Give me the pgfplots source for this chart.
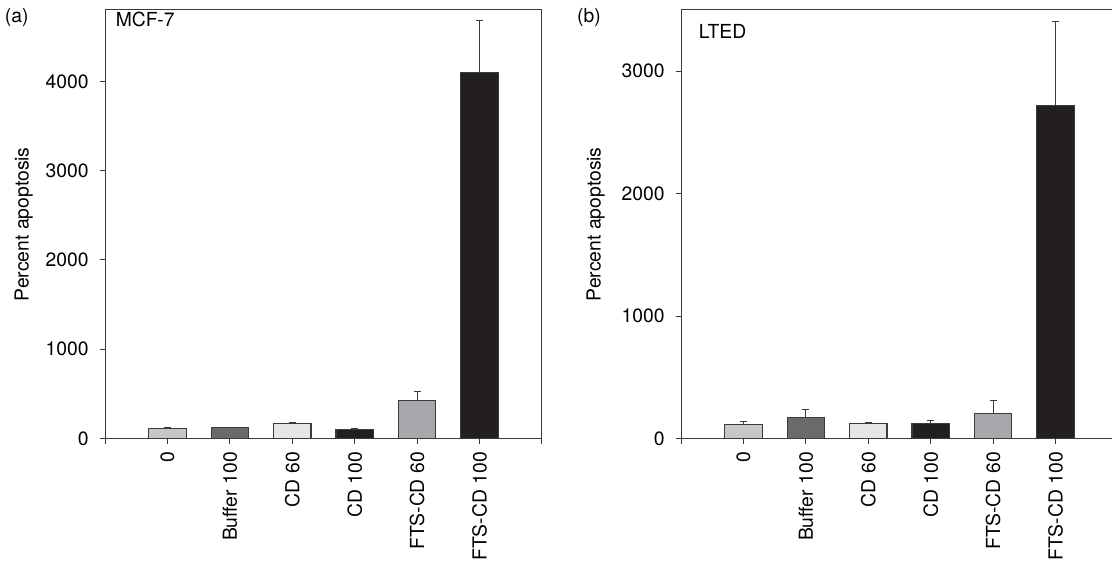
\documentclass[border=0pt]{standalone}
\usepackage{pgfplots}
\pgfplotsset{compat=1.18}
\usepackage{fontspec}
\setmainfont{TeX Gyre Heros}

\definecolor{barA}{HTML}{C6C7C9}
\definecolor{barB}{HTML}{6A6B6D}
\definecolor{barC}{HTML}{E6E6E6}
\definecolor{barD}{HTML}{231F20}
\definecolor{barE}{HTML}{A7A8AB}
\definecolor{barF}{HTML}{231F20}
\definecolor{axisgray}{HTML}{3A3A3A}

\pgfplotsset{
  apopt/.style={
    scale only axis, width=327.75pt, height=321.375pt,
    xmin=-1, xmax=6, ymin=0,
    xtick={-1,0,1,2,3,4,5,6},
    xticklabels={,0,Buffer 100,CD 60,CD 100,FTS-CD 60,FTS-CD 100,},
    tick align=outside, tick pos=left, major tick length=3.75pt,
    xticklabel style={rotate=90, anchor=east},
    xticklabel shift=3pt,
    yticklabel={\pgfmathprintnumber{\tick}\hspace*{5pt}},
    ylabel={Percent apoptosis},
    axis line style={axisgray, line width=0.75pt},
    tick style={axisgray, line width=0.75pt},
    ybar, bar width=0.6,
    every axis plot/.append style={draw=axisgray, line width=0.9pt, bar shift=0pt},
    error bars/y dir=plus, error bars/y explicit,
    error bars/error bar style={axisgray, line width=0.75pt},
    error bars/error mark options={rotate=90, mark size=2.6pt, line width=0.75pt, axisgray},
    /pgf/number format/assume math mode=true,
    /pgf/number format/1000 sep={},
  }
}

\begin{document}
\begin{tikzpicture}[font=\fontsize{14.5}{17}\selectfont]
\path[use as bounding box] (0,0) rectangle (834pt,425.25pt);
\clip (0,0) rectangle (834pt,425.25pt);

% (a) MCF-7 cells
\begin{axis}[apopt, at={(78.75pt,96.375pt)}, anchor=south west,
  ymax=4800, ytick={0,1000,2000,3000,4000},
  ylabel style={at={(axis description cs:-0.186,0.5)}, anchor=center}]
\addplot[fill=barA] coordinates {(0,108) +- (0,11)};
\addplot[fill=barB] coordinates {(1,123) +- (0,3)};
\addplot[fill=barC] coordinates {(2,164) +- (0,19)};
\addplot[fill=barD] coordinates {(3,97) +- (0,15)};
\addplot[fill=barE] coordinates {(4,429) +- (0,101)};
\addplot[fill=barF] coordinates {(5,4103) +- (0,575)};
\node[anchor=west] at (axis description cs:0.014,0.978) {MCF-7};
\end{axis}

% (b) LTED cells
\begin{axis}[apopt, at={(510.75pt,96.375pt)}, anchor=south west,
  ymax=3500, ytick={0,1000,2000,3000},
  ylabel style={at={(axis description cs:-0.195,0.5)}, anchor=center}]
\addplot[fill=barA] coordinates {(0,112) +- (0,24)};
\addplot[fill=barB] coordinates {(1,174) +- (0,65)};
\addplot[fill=barC] coordinates {(2,125) +- (0,8)};
\addplot[fill=barD] coordinates {(3,125) +- (0,19)};
\addplot[fill=barE] coordinates {(4,206) +- (0,104)};
\addplot[fill=barF] coordinates {(5,2719) +- (0,684)};
\node[anchor=west] at (axis description cs:0.03,0.951) {LTED};
\end{axis}

\node at (12.5pt,411.75pt) {(a)};
\node at (441.75pt,411.75pt) {(b)};
\end{tikzpicture}
\end{document}
